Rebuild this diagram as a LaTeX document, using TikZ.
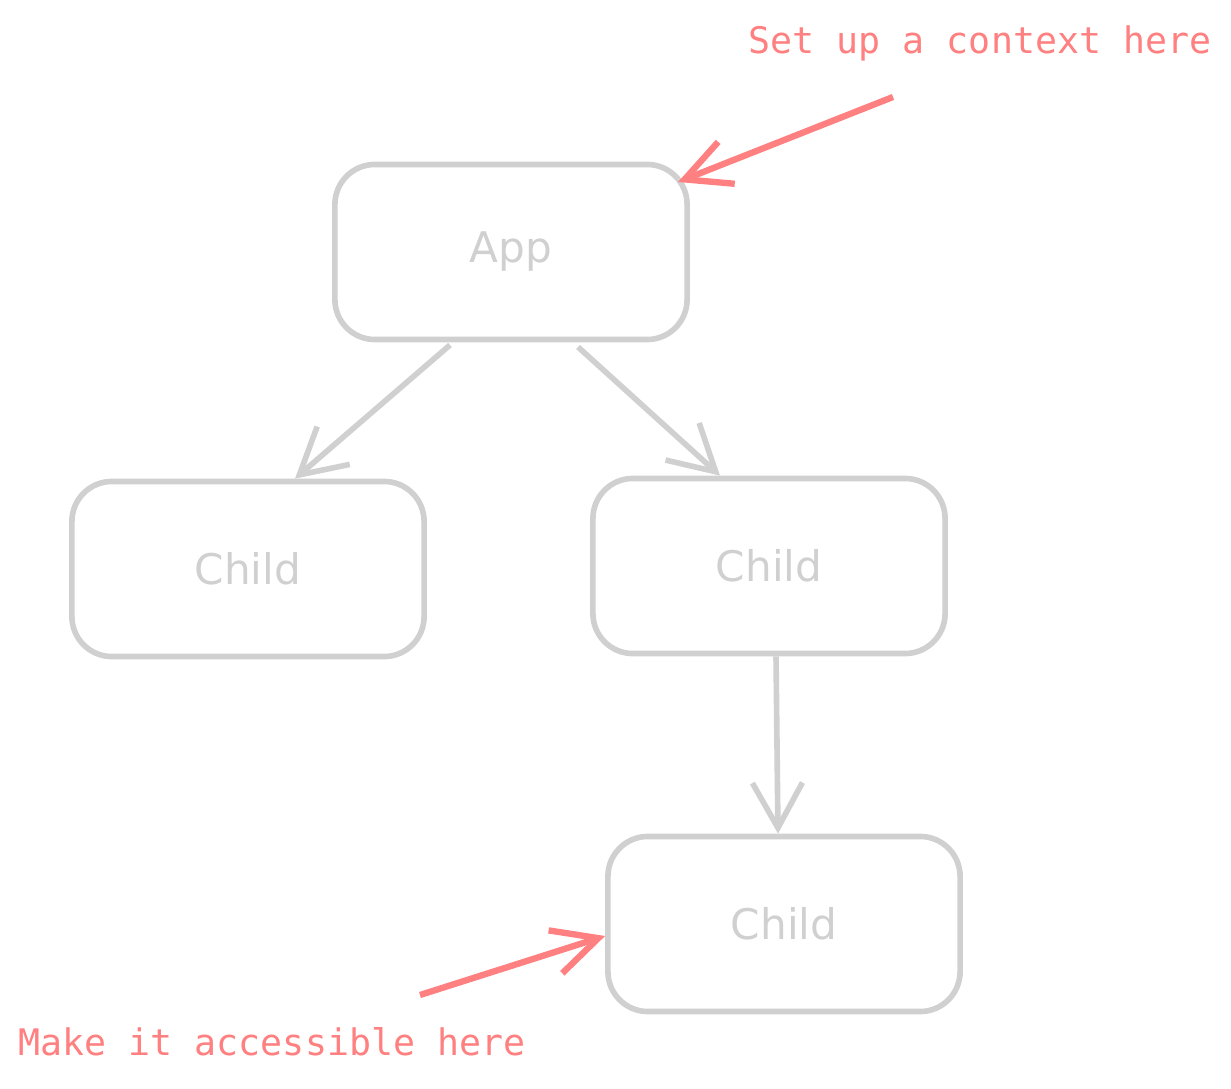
\documentclass[tikz,border=0pt]{standalone}
\usepackage{fontspec}
\setmonofont{DejaVu Sans Mono}
\setsansfont{DejaVu Sans}
\usetikzlibrary{arrows.meta}
\definecolor{boxgray}{HTML}{D0D0D0}
\definecolor{notered}{HTML}{FF8080}
\tikzset{
  box/.style={draw=boxgray, line width=1.6pt, rounded corners=0.4cm, minimum width=3.52cm, minimum height=1.75cm, text=boxgray, font=\sffamily\large},
  link/.style={draw=boxgray, line width=1.6pt, -{Straight Barb[length=0.45cm, width=0.5cm]}},
  note/.style={text=notered, font=\ttfamily\fontsize{10.4pt}{13pt}\selectfont},
  hint/.style={draw=notered, line width=1.8pt, -{Straight Barb[length=0.45cm, width=0.45cm]}}
}
\begin{document}
\begin{tikzpicture}[x=0.01cm, y=-0.01cm]
\useasboundingbox (0,0) rectangle (1231,1089);
\node[box] (app) at (511,252) {App};
\node[box] (childa) at (248,569) {Child};
\node[box] (childb) at (769,566) {Child};
\node[box] (childc) at (784,924) {Child};

\draw[link] (450,345) -- (childa.north -| 295,0);
\draw[link] (578,347) -- (childb.north -| 720,0);
\draw[link] (childb.south -| 776,0) -- (childc.north -| 778,0);

\node[note] (context) at (980,43) {Set up a context here};
\node[note] (access) at (272,1042) {Make it accessible here};
\coordinate (ctxstart) at (893,97);
\coordinate (ctxend) at (678,182);
\coordinate (accstart) at (420,995);
\draw[hint] (ctxstart) -- (ctxend);
\draw[hint] (accstart) -- (childc.west |- 0,936);
\end{tikzpicture}
\end{document}
